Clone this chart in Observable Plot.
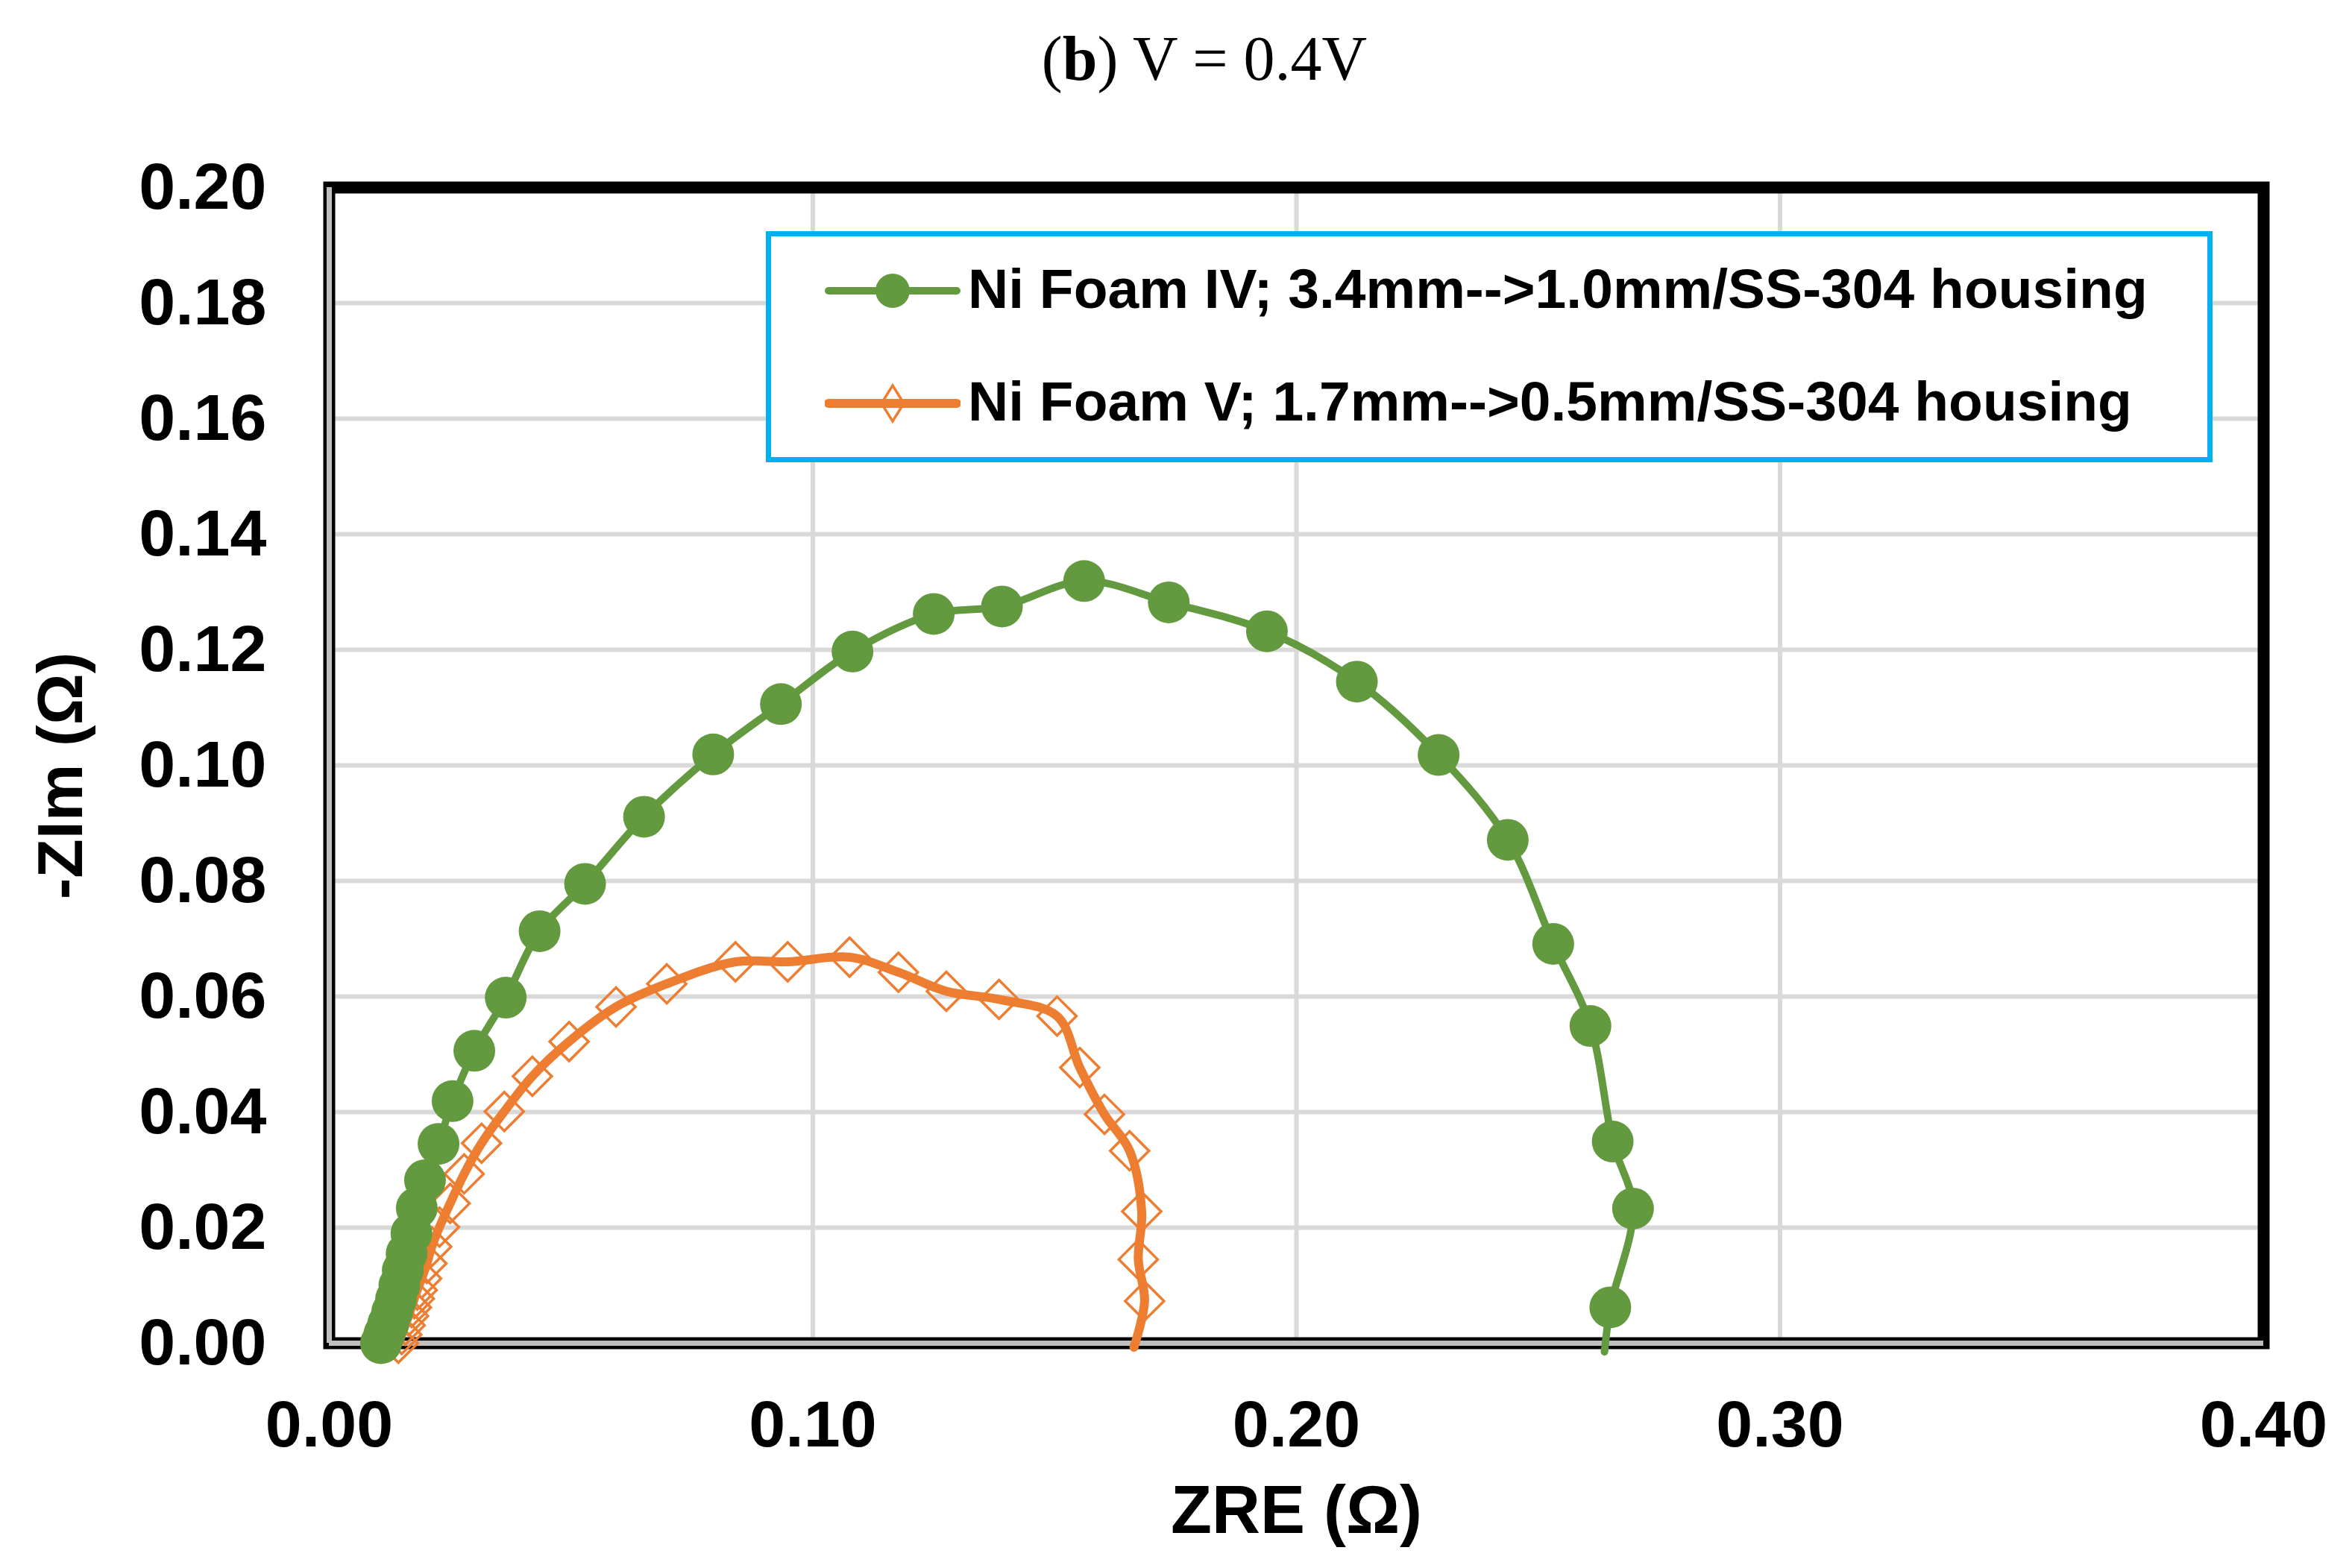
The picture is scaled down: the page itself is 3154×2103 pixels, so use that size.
<!DOCTYPE html>
<html lang="en">
<head>
<meta charset="UTF-8">
<script src="https://cdn.jsdelivr.net/npm/d3@7"></script>
<script src="https://cdn.jsdelivr.net/npm/@observablehq/plot@0.6"></script>
<title>V = 0.4V</title>
<style>
  body { margin: 0; background: #fff; }
  #page { position: relative; width: 3154px; height: 2103px; overflow: hidden; }
  #title {
    position: absolute; left: 38px; top: 36px; width: 3154px; text-align: center;
    font-family: "Liberation Serif", "Times New Roman", serif; font-size: 84px; line-height: 86px;
  }
  #plot { position: absolute; left: 0; top: 160px; }
  #legend {
    position: absolute; left: 1027px; top: 310px; width: 1940px; height: 310px;
    box-sizing: border-box; border: 7px solid #00B0F0; background: #fff;
  }
  .entry {
    position: absolute; left: 1298px;
    font-family: "Liberation Sans", Arial, sans-serif; font-weight: bold; font-size: 75px; line-height: 75px;
    white-space: nowrap;
  }
  .swatch { position: absolute; left: 1106px; }
</style>
</head>
<body>
<div id="page">
  <div id="title">(<b>b</b>) V = 0.4V</div>
  <div id="plot"></div>
  <div id="legend"></div>
  <svg class="swatch" style="top:360px" width="182" height="60">
    <line x1="5" y1="30" x2="177" y2="30" stroke="#639A3F" stroke-width="10" stroke-linecap="round"></line>
    <circle cx="91" cy="30" r="23" fill="#639A3F"></circle>
  </svg>
  <svg class="swatch" style="top:511px" width="182" height="60">
    <line x1="5" y1="30" x2="177" y2="30" stroke="#ED7D31" stroke-width="12" stroke-linecap="round"></line>
    <path d="M91,6 L106,30 L91,54 L76,30 Z" fill="none" stroke="#ED7D31" stroke-width="3.5"></path>
  </svg>
  <div class="entry" id="e1" style="top:350px"></div>
  <div class="entry" id="e2" style="top:501px"></div>
</div>
<script>
  const seriesNames = [
    "Ni Foam IV; 3.4mm-->1.0mm/SS-304 housing",
    "Ni Foam V; 1.7mm-->0.5mm/SS-304 housing"
  ];
  const seriesColors = ["#639A3F", "#ED7D31"];

  // Ni Foam IV (green circles)
  const foam4Zre = [0.0107, 0.0114, 0.0122, 0.0130, 0.0138, 0.0145, 0.0152, 0.0160, 0.0170, 0.0181,
    0.0198, 0.0226, 0.0255, 0.0300, 0.0365, 0.0435, 0.0529, 0.0651, 0.0794, 0.0934,
    0.1082, 0.1250, 0.1391, 0.1561, 0.1736, 0.1939, 0.2125, 0.2294, 0.2437, 0.2531,
    0.2608, 0.2654, 0.2696, 0.2649, 0.2637];
  const foam4Zim = [0.0000, 0.0016, 0.0034, 0.0054, 0.0076, 0.0100, 0.0126, 0.0155, 0.0190, 0.0234,
    0.0282, 0.0345, 0.0419, 0.0506, 0.0598, 0.0713, 0.0795, 0.0911, 0.1019, 0.1106,
    0.1197, 0.1262, 0.1275, 0.1319, 0.1282, 0.1232, 0.1145, 0.1018, 0.0871, 0.0691,
    0.0549, 0.0349, 0.0233, 0.0062, -0.0015];

  // Ni Foam V (orange open diamonds)
  const foam5Zre = [0.0143, 0.0150, 0.0157, 0.0164, 0.0170, 0.0176, 0.0182, 0.0191, 0.0202, 0.0212,
    0.0228, 0.0250, 0.0279, 0.0315, 0.0362, 0.0420, 0.0496, 0.0593, 0.0698, 0.0840,
    0.0948, 0.1076, 0.1177, 0.1276, 0.1385, 0.1505, 0.1552, 0.1603, 0.1655, 0.1680,
    0.1673, 0.1686, 0.1664];
  const foam5Zim = [0.0000, 0.0015, 0.0031, 0.0047, 0.0062, 0.0077, 0.0092, 0.0112, 0.0138, 0.0167,
    0.0201, 0.0242, 0.0293, 0.0346, 0.0401, 0.0462, 0.0522, 0.0582, 0.0622, 0.0660,
    0.0660, 0.0668, 0.0642, 0.0609, 0.0595, 0.0566, 0.0477, 0.0396, 0.0333, 0.0228,
    0.0145, 0.0073, -0.0007];

  const xTicks = [0, 0.1, 0.2, 0.3, 0.4];
  const yTicks = [0, 0.02, 0.04, 0.06, 0.08, 0.10, 0.12, 0.14, 0.16, 0.18, 0.20];
  const xLabel = "ZRE (\u03A9)";
  const yLabel = "-ZIm (\u03A9)";

  const foam4 = foam4Zre.map((x, i) => ({x, y: foam4Zim[i]}));
  const foam5 = foam5Zre.map((x, i) => ({x, y: foam5Zim[i]}));
  const xDomain = [xTicks[0], xTicks[xTicks.length - 1]];
  const yDomain = [yTicks[0], yTicks[yTicks.length - 1]];

  const chart = Plot.plot({
    width: 3154,
    height: 1943,
    marginLeft: 441,
    marginRight: 119,
    marginTop: 91,
    marginBottom: 302,
    style: {fontFamily: "'Liberation Sans', Arial, sans-serif", fontWeight: "bold", fontSize: "88px", color: "black", background: "white"},
    x: {domain: xDomain},
    y: {domain: yDomain},
    marks: [
      Plot.gridX(xTicks.slice(1, -1), {stroke: "#D9D9D9", strokeOpacity: 1, strokeWidth: 6}),
      Plot.gridY(yTicks.slice(1, -1), {stroke: "#D9D9D9", strokeOpacity: 1, strokeWidth: 6}),
      Plot.frame({stroke: "black", strokeWidth: 16}),
      Plot.ruleX([xDomain[0]], {stroke: "#BFBFBF", strokeWidth: 7}),
      Plot.ruleY([yDomain[0]], {stroke: "#BFBFBF", strokeWidth: 7}),
      Plot.axisX({ticks: xTicks, tickSize: 0, tickPadding: 76, tickFormat: d3.format(".2f"), label: null, fontSize: 88}),
      Plot.axisY({ticks: yTicks, tickSize: 0, tickPadding: 84, tickFormat: d3.format(".2f"), label: null, fontSize: 88}),
      Plot.text([xLabel], {frameAnchor: "bottom", text: d => d, dy: 226, textAnchor: "middle", lineAnchor: "middle", fontSize: 90, fontWeight: "bold"}),
      Plot.text([yLabel], {frameAnchor: "left", text: d => d, rotate: -90, dx: -359, dy: 14, textAnchor: "middle", lineAnchor: "middle", fontSize: 86, fontWeight: "bold"}),
      Plot.line(foam5, {x: "x", y: "y", stroke: seriesColors[1], strokeWidth: 12, curve: "catmull-rom"}),
      Plot.dot(foam5.filter(d => d.y >= 0), {x: "x", y: "y", symbol: "diamond2", r: 23.4, stroke: seriesColors[1], strokeWidth: 3.5, fill: "none"}),
      Plot.line(foam4, {x: "x", y: "y", stroke: seriesColors[0], strokeWidth: 10, curve: "catmull-rom"}),
      Plot.dot(foam4.filter(d => d.y >= 0), {x: "x", y: "y", r: 28, fill: seriesColors[0], stroke: "none"})
    ]
  });
  document.getElementById("plot").append(chart);
  document.getElementById("e1").textContent = seriesNames[0];
  document.getElementById("e2").textContent = seriesNames[1];
</script>
</body>
</html>
